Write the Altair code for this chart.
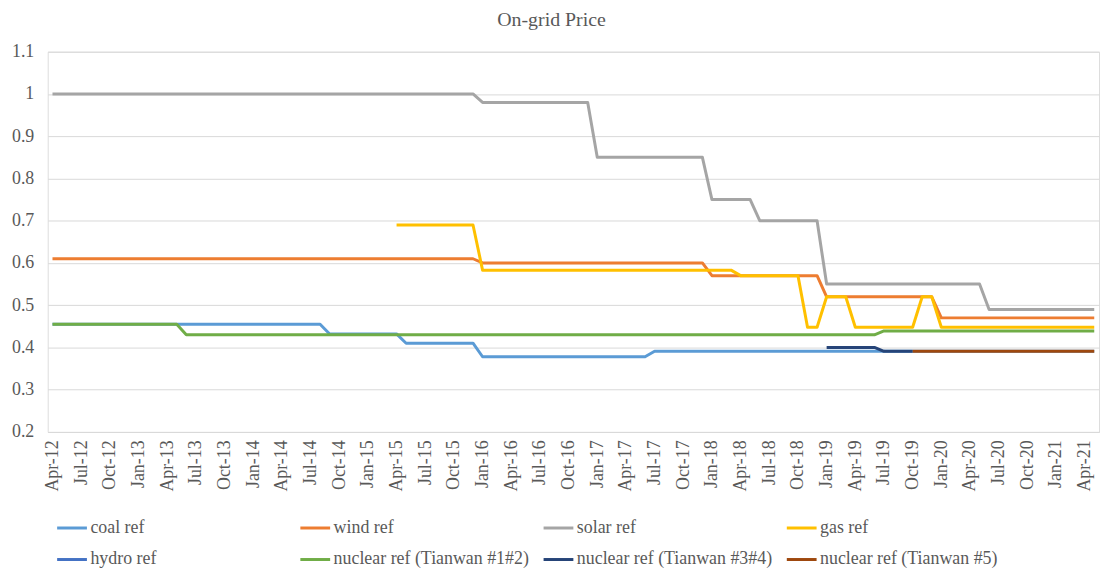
import altair as alt
import pandas as pd

# ---- data -------------------------------------------------------------
MONTHS = list(pd.date_range("2012-04-01", "2021-05-01", freq="MS").strftime("%b-%y"))
TICK_LABELS = MONTHS[::3]  # Apr-12, Jul-12, ... Apr-21

SERIES = ["coal ref", "wind ref", "solar ref", "gas ref", "hydro ref",
          "nuclear ref (Tianwan #1#2)", "nuclear ref (Tianwan #3#4)",
          "nuclear ref (Tianwan #5)"]
COLORS = ["#5B9BD5", "#ED7D31", "#A5A5A5", "#FFC000", "#4472C4",
          "#70AD47", "#264478", "#9E480E"]

# price levels: (first month of the level, value), last month
coal_ref = [("Apr-12", 0.455), ("Sep-14", 0.432), ("May-15", 0.41),
            ("Jan-16", 0.378), ("Jul-17", 0.391)]
coal_last = "May-21"
wind_ref = [("Apr-12", 0.61), ("Jan-16", 0.60), ("Jan-18", 0.57),
            ("Jan-19", 0.52), ("Jan-20", 0.47)]
wind_last = "May-21"
solar_ref = [("Apr-12", 1.00), ("Jan-16", 0.98), ("Jan-17", 0.85),
             ("Jan-18", 0.75), ("Jun-18", 0.70), ("Jan-19", 0.55),
             ("Jun-20", 0.49)]
solar_last = "May-21"
gas_ref = [("Apr-15", 0.69), ("Jan-16", 0.583), ("Apr-18", 0.57),
           ("Nov-18", 0.448), ("Jan-19", 0.52), ("Apr-19", 0.448),
           ("Nov-19", 0.52), ("Jan-20", 0.448)]
gas_last = "May-21"
hydro_ref = []
hydro_last = None
nuclear12_ref = [("Apr-12", 0.455), ("Jun-13", 0.43), ("Jul-19", 0.439)]
nuclear12_last = "May-21"
nuclear34_ref = [("Jan-19", 0.40), ("Jul-19", 0.391)]
nuclear34_last = "Oct-19"
nuclear5_ref = [("Oct-19", 0.391)]
nuclear5_last = "May-21"

LEVELS = [(coal_ref, coal_last), (wind_ref, wind_last), (solar_ref, solar_last),
          (gas_ref, gas_last), (hydro_ref, hydro_last),
          (nuclear12_ref, nuclear12_last), (nuclear34_ref, nuclear34_last),
          (nuclear5_ref, nuclear5_last)]

rows = []
for name, (levels, last) in zip(SERIES, LEVELS):
    if not levels:
        continue
    end = MONTHS.index(last)
    for i, (start, val) in enumerate(levels):
        s = MONTHS.index(start)
        e = MONTHS.index(levels[i + 1][0]) - 1 if i + 1 < len(levels) else end
        for m in range(s, e + 1):
            rows.append({"month": MONTHS[m], "series": name, "value": val})
df = pd.DataFrame(rows)

FONT = "Liberation Serif"
GREY = "#595959"

chart = alt.Chart(df).mark_line(strokeWidth=3, strokeJoin="round", strokeCap="butt").encode(
    x=alt.X("month:O", sort=MONTHS,
            scale=alt.Scale(type="point", padding=0.5, domain=MONTHS),
            axis=alt.Axis(values=TICK_LABELS, labelAngle=270, title=None, ticks=False,
                          grid=False, domainColor="#D9D9D9", domainWidth=1,
                          labelFont=FONT, labelFontSize=18, labelColor=GREY,
                          labelPadding=8, labelOverlap=False)),
    y=alt.Y("value:Q",
            scale=alt.Scale(domain=[0.2, 1.1], nice=False, zero=False),
            axis=alt.Axis(values=[0.2, 0.3, 0.4, 0.5, 0.6, 0.7, 0.8, 0.9, 1.0, 1.1],
                          format=".1~f", title=None, ticks=False, domain=False,
                          gridColor="#D9D9D9", gridWidth=1,
                          labelFont=FONT, labelFontSize=18, labelColor=GREY,
                          labelPadding=14)),
    color=alt.Color("series:N", sort=SERIES,
                    scale=alt.Scale(domain=SERIES, range=COLORS),
                    legend=alt.Legend(title=None, orient="none", legendX=8, legendY=463,
                                      direction="horizontal", columns=4, gridAlign="all",
                                      columnPadding=8, rowPadding=6,
                                      symbolType="stroke", symbolSize=900,
                                      symbolStrokeWidth=3, labelOffset=2,
                                      labelFont=FONT, labelFontSize=18,
                                      labelColor=GREY, labelLimit=400)),
    order=alt.value(0),
).properties(
    width=1059,
    height=383,
    title=alt.TitleParams("On-grid Price", font=FONT, fontSize=20, fontWeight="normal",
                          color=GREY, anchor="middle", dx=-22, offset=13),
    autosize=alt.AutoSizeParams(type="none"),
    padding={"left": 40, "top": 42, "right": 3, "bottom": 136},
).configure_view(stroke=None).configure(background="white")

chart.save("out.html", embed_options={"renderer": "svg", "actions": False})
